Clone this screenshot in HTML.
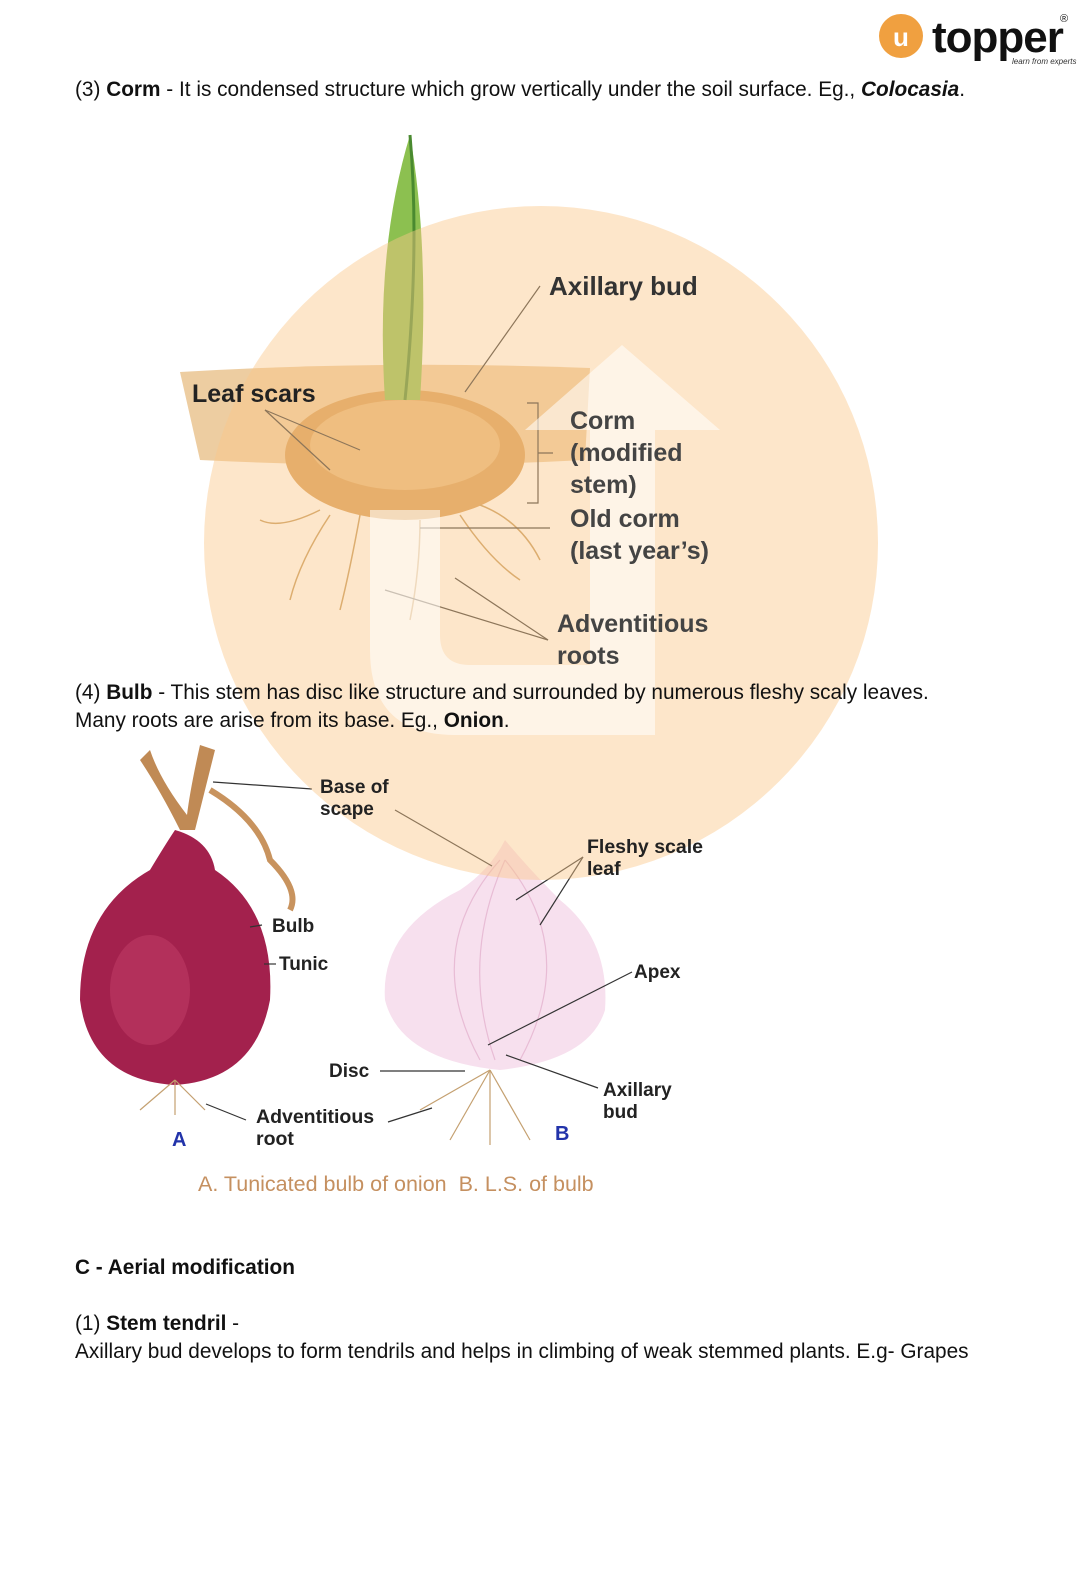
<!DOCTYPE html>
<html><head><meta charset="utf-8"><style>
body{margin:0;width:1088px;height:1575px;background:#fff;position:relative;overflow:hidden;font-family:"Liberation Sans",sans-serif;}
.t{position:absolute;left:75px;font-size:20.8px;color:#111;white-space:nowrap}
.l{position:absolute;font-weight:bold;color:#222;white-space:nowrap}
</style></head><body>
<svg width="1088" height="1575" style="position:absolute;left:0;top:0">
<circle cx="901" cy="36" r="22" fill="#f0a040"/>
<text x="901" y="46" font-size="26" fill="#fff" text-anchor="middle" font-family="Liberation Sans" font-weight="bold">u</text>
<text x="932" y="52" font-size="44" fill="#111" font-family="Liberation Sans" font-weight="bold" letter-spacing="-1">topper</text>
<text x="1060" y="22" font-size="11" fill="#111">®</text>
<text x="1012" y="64" font-size="8" fill="#333" font-style="italic">learn from experts</text>
<path d="M180 372 Q380 360 590 368 L585 460 Q400 470 200 460 Z" fill="#e9c08a" opacity="0.8"/>
<ellipse cx="405" cy="455" rx="120" ry="65" fill="#d79c55"/>
<ellipse cx="405" cy="445" rx="95" ry="45" fill="#e6b678"/>
<path d="M410 135 Q430 250 420 400 L385 400 Q375 250 410 135Z" fill="#8cc050"/>
<path d="M410 135 Q420 250 405 400" stroke="#4a8a30" stroke-width="3" fill="none"/>
<g stroke="#c4985a" stroke-width="1.5" fill="none">
<path d="M330 515 Q300 560 290 600"/><path d="M360 515 Q350 570 340 610"/><path d="M420 520 Q420 570 410 620"/><path d="M460 515 Q490 560 520 580"/><path d="M320 510 Q280 530 260 520"/><path d="M480 505 Q520 520 540 560"/>
</g>
<g stroke="#333" stroke-width="1.2" fill="none">
<line x1="540" y1="286" x2="465" y2="392"/>
<line x1="265" y1="410" x2="360" y2="450"/><line x1="265" y1="410" x2="330" y2="470"/>
<path d="M527 403 H538 V503 H527 M538 453 H553"/>
<line x1="420" y1="528" x2="550" y2="528"/>
<line x1="385" y1="590" x2="548" y2="640"/><line x1="455" y1="578" x2="548" y2="640"/>
</g>
<path d="M140 760 Q160 790 180 830 L195 830 Q205 790 215 750 L200 745 Q190 790 187 815 Q160 780 150 750Z" fill="#c08a55"/>
<path d="M210 790 Q260 820 270 860 Q300 890 290 910" stroke="#c8935e" stroke-width="6" fill="none"/>
<path d="M175 830 Q210 840 215 870 Q275 910 270 1000 Q255 1080 175 1085 Q90 1080 80 1000 Q80 910 150 870 Q165 845 175 830Z" fill="#a3214d"/>
<ellipse cx="150" cy="990" rx="40" ry="55" fill="#c4406a" opacity="0.5"/>
<g stroke="#c4a070" stroke-width="1.2"><line x1="175" y1="1080" x2="140" y2="1110"/><line x1="175" y1="1080" x2="175" y2="1115"/><line x1="175" y1="1080" x2="205" y2="1110"/></g>
<path d="M505 840 Q530 870 560 900 Q610 940 605 1010 Q590 1060 500 1070 Q400 1060 385 1000 Q380 930 460 890 Q490 870 505 840Z" fill="#f7e0ee"/>
<g stroke="#e8bcd5" fill="none" stroke-width="1.2"><path d="M500 860 Q420 950 480 1060"/><path d="M505 860 Q580 950 520 1060"/><path d="M505 860 Q460 960 495 1060"/></g>
<g stroke="#c4a070" stroke-width="1.2"><line x1="490" y1="1070" x2="450" y2="1140"/><line x1="490" y1="1070" x2="490" y2="1145"/><line x1="490" y1="1070" x2="530" y2="1140"/><line x1="490" y1="1070" x2="420" y2="1110"/></g>
<g stroke="#333" stroke-width="1.2" fill="none">
<line x1="213" y1="782" x2="312" y2="789"/><line x1="395" y1="810" x2="492" y2="866"/>
<line x1="583" y1="857" x2="516" y2="900"/><line x1="583" y1="857" x2="540" y2="925"/>
<line x1="250" y1="927" x2="262" y2="925"/><line x1="264" y1="964" x2="276" y2="964"/>
<line x1="632" y1="972" x2="488" y2="1045"/><line x1="380" y1="1071" x2="465" y2="1071"/>
<line x1="506" y1="1055" x2="598" y2="1088"/>
<line x1="206" y1="1104" x2="246" y2="1120"/><line x1="388" y1="1122" x2="432" y2="1108"/>
</g>
<circle cx="541" cy="543" r="337" fill="#fbc88a" opacity="0.45"/>
<path d="M370 510 L370 650 Q370 735 455 735 L655 735 L655 430 L720 430 L622 345 L525 430 L590 430 L590 665 L470 665 Q440 665 440 635 L440 510Z" fill="#fff" opacity="0.55"/>
</svg>
<div class="t" style="top:78px">(3) <b>Corm</b> - It is condensed structure which grow vertically under the soil surface. Eg., <b><i>Colocasia</i></b>.</div>
<div class="l" style="left:549px;top:271px;font-size:26px;color:#333">Axillary bud</div>
<div class="l" style="left:192px;top:380px;font-size:25px;color:#222">Leaf scars</div>
<div class="l" style="left:570px;top:405px;font-size:25px;line-height:32px;color:#444">Corm<br>(modified<br>stem)</div>
<div class="l" style="left:570px;top:503px;font-size:25px;line-height:32px;color:#444">Old corm<br>(last year’s)</div>
<div class="l" style="left:557px;top:608px;font-size:25px;line-height:32px;color:#444">Adventitious<br>roots</div>
<div class="t" style="top:679px;line-height:28px">(4) <b>Bulb</b> - This stem has disc like structure and surrounded by numerous fleshy scaly leaves.<br>Many roots are arise from its base. Eg., <b>Onion</b>.</div>
<div class="l" style="left:320px;top:777px;font-size:19px;line-height:22px">Base of<br>scape</div>
<div class="l" style="left:587px;top:836px;font-size:19.5px;line-height:22px">Fleshy scale<br>leaf</div>
<div class="l" style="left:272px;top:916px;font-size:19px">Bulb</div>
<div class="l" style="left:279px;top:954px;font-size:19px">Tunic</div>
<div class="l" style="left:634px;top:962px;font-size:19px">Apex</div>
<div class="l" style="left:329px;top:1061px;font-size:19px">Disc</div>
<div class="l" style="left:603px;top:1080px;font-size:19px;line-height:22px">Axillary<br>bud</div>
<div class="l" style="left:256px;top:1106px;font-size:19.5px;line-height:22px">Adventitious<br>root</div>
<div class="l" style="left:172px;top:1129px;font-size:20px;color:#2233aa">A</div>
<div class="l" style="left:555px;top:1123px;font-size:20px;color:#2233aa">B</div>
<div class="l" style="left:198px;top:1172px;font-size:21.5px;font-weight:normal;color:#c59060">A. Tunicated bulb of onion &nbsp;B. L.S. of bulb</div>
<div class="t" style="top:1256px"><b>C - Aerial modification</b></div>
<div class="t" style="top:1312px">(1) <b>Stem tendril</b> -</div>
<div class="t" style="top:1340px">Axillary bud develops to form tendrils and helps in climbing of weak stemmed plants. E.g- Grapes</div>
</body></html>
